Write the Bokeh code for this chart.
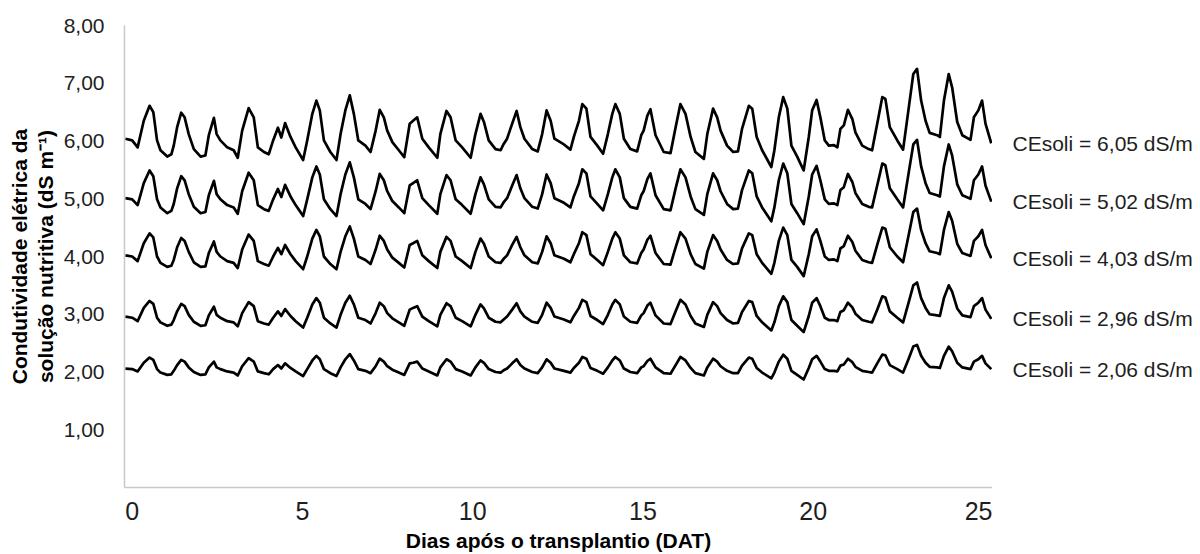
from bokeh.core.properties import value
from bokeh.embed import file_html
from bokeh.layouts import row
from bokeh.models import FixedTicker, Range1d, Title
from bokeh.plotting import figure
from bokeh.resources import INLINE

# Days after transplanting (DAT) at each reading
dias = [-0.20, 0.00, 0.16, 0.34, 0.51, 0.62, 0.73, 0.83, 1.03, 1.15,
        1.22, 1.32, 1.44, 1.54, 1.66, 1.81, 2.01, 2.15, 2.25, 2.40,
        2.48, 2.59, 2.79, 2.98, 3.10, 3.23, 3.42, 3.57, 3.69, 3.87,
        4.01, 4.14, 4.28, 4.38, 4.49, 4.65, 4.80, 5.02, 5.14, 5.29,
        5.41, 5.51, 5.63, 5.82, 6.00, 6.12, 6.26, 6.39, 6.51, 6.64,
        6.85, 7.00, 7.15, 7.27, 7.39, 7.49, 7.64, 7.83, 7.99, 8.15,
        8.25, 8.37, 8.52, 8.71, 8.96, 9.05, 9.23, 9.35, 9.50, 9.69,
        9.94, 10.08, 10.23, 10.33, 10.47, 10.67, 10.82, 10.91, 11.01, 11.16,
        11.29, 11.40, 11.52, 11.75, 11.91, 12.04, 12.17, 12.29, 12.40, 12.68,
        12.87, 12.97, 13.12, 13.22, 13.34, 13.46, 13.66, 13.83, 13.97, 14.10,
        14.19, 14.32, 14.44, 14.63, 14.83, 14.95, 15.02, 15.13, 15.22, 15.37,
        15.61, 15.81, 15.96, 16.10, 16.25, 16.40, 16.54, 16.79, 16.89, 17.06,
        17.18, 17.28, 17.47, 17.65, 17.79, 17.91, 18.11, 18.21, 18.34, 18.50,
        18.77, 18.86, 18.99, 19.12, 19.24, 19.36, 19.53, 19.72, 19.87, 19.97,
        20.10, 20.21, 20.34, 20.46, 20.61, 20.71, 20.80, 20.90, 21.02, 21.15,
        21.24, 21.44, 21.63, 21.73, 21.88, 22.03, 22.12, 22.25, 22.47, 22.64,
        22.81, 22.94, 23.05, 23.17, 23.30, 23.42, 23.64, 23.72, 23.84, 23.98,
        24.08, 24.23, 24.38, 24.62, 24.72, 24.85, 24.96, 25.06, 25.23]

# Electrical conductivity of the nutrient solution (dS/m), one list per treatment
ce_605 = [6.04, 6.01, 5.89, 6.35, 6.61, 6.50, 6.01, 5.84, 5.73, 5.77,
          5.92, 6.24, 6.49, 6.41, 6.12, 5.86, 5.73, 5.75, 6.10, 6.40,
          6.12, 6.01, 5.89, 5.84, 5.71, 6.18, 6.57, 6.41, 5.89, 5.81,
          5.77, 6.01, 6.23, 6.06, 6.31, 6.07, 5.89, 5.67, 6.01, 6.47,
          6.70, 6.53, 6.01, 5.81, 5.67, 6.12, 6.53, 6.79, 6.47, 6.01,
          5.92, 5.81, 6.18, 6.54, 6.41, 6.18, 5.98, 5.84, 5.72, 6.30,
          6.35, 6.41, 6.04, 5.89, 5.71, 6.12, 6.52, 6.41, 6.01, 5.89,
          5.71, 6.12, 6.47, 6.33, 6.01, 5.86, 5.84, 5.95, 6.04, 6.30,
          6.52, 6.24, 6.04, 5.86, 5.82, 6.12, 6.53, 6.35, 6.04, 5.94,
          5.85, 6.07, 6.35, 6.64, 6.56, 6.07, 5.92, 5.78, 6.12, 6.47,
          6.64, 6.47, 6.04, 5.86, 5.82, 6.10, 6.18, 6.44, 6.55, 6.10,
          5.81, 5.79, 6.24, 6.64, 6.47, 6.07, 5.81, 5.69, 6.12, 6.56,
          6.41, 6.18, 5.92, 5.81, 5.82, 6.21, 6.61, 6.56, 6.07, 5.84,
          5.55, 5.84, 6.41, 6.76, 6.56, 5.92, 5.73, 5.49, 6.07, 6.53,
          6.71, 6.41, 6.01, 5.92, 5.93, 5.89, 6.21, 6.27, 6.54, 6.38,
          6.15, 5.92, 5.86, 5.84, 6.30, 6.76, 6.73, 6.24, 6.01, 5.85,
          6.59, 7.16, 7.25, 6.70, 6.35, 6.14, 6.10, 6.07, 6.70, 7.16,
          6.93, 6.33, 6.10, 6.02, 6.41, 6.53, 6.70, 6.30, 5.96]

ce_502 = [5.01, 4.99, 4.89, 5.27, 5.49, 5.39, 4.99, 4.85, 4.75, 4.79,
          4.91, 5.18, 5.39, 5.32, 5.08, 4.86, 4.75, 4.77, 5.06, 5.31,
          5.08, 4.99, 4.89, 4.85, 4.74, 5.13, 5.45, 5.32, 4.89, 4.82,
          4.79, 4.99, 5.17, 5.03, 5.24, 5.04, 4.89, 4.70, 4.99, 5.37,
          5.56, 5.42, 4.99, 4.82, 4.70, 5.08, 5.42, 5.63, 5.37, 4.99,
          4.91, 4.82, 5.13, 5.43, 5.32, 5.13, 4.96, 4.85, 4.75, 5.23,
          5.27, 5.32, 5.01, 4.89, 4.74, 5.08, 5.41, 5.32, 4.99, 4.89,
          4.74, 5.08, 5.37, 5.25, 4.99, 4.86, 4.85, 4.94, 5.01, 5.23,
          5.41, 5.18, 5.01, 4.86, 4.83, 5.08, 5.42, 5.27, 5.01, 4.93,
          4.85, 5.04, 5.27, 5.51, 5.44, 5.04, 4.91, 4.80, 5.08, 5.37,
          5.51, 5.37, 5.01, 4.86, 4.83, 5.06, 5.13, 5.34, 5.44, 5.06,
          4.82, 4.80, 5.18, 5.51, 5.37, 5.04, 4.82, 4.72, 5.08, 5.44,
          5.32, 5.13, 4.91, 4.82, 4.83, 5.15, 5.49, 5.44, 5.04, 4.85,
          4.61, 4.85, 5.32, 5.61, 5.44, 4.91, 4.75, 4.56, 5.04, 5.42,
          5.57, 5.32, 4.99, 4.91, 4.92, 4.89, 5.15, 5.20, 5.43, 5.29,
          5.10, 4.91, 4.86, 4.85, 5.23, 5.61, 5.58, 5.18, 4.99, 4.85,
          5.47, 5.94, 6.02, 5.56, 5.27, 5.10, 5.06, 5.04, 5.56, 5.94,
          5.75, 5.25, 5.06, 5.00, 5.32, 5.42, 5.56, 5.23, 4.95]

ce_403 = [4.02, 4.00, 3.92, 4.23, 4.40, 4.33, 4.00, 3.89, 3.82, 3.84,
          3.94, 4.16, 4.32, 4.27, 4.08, 3.90, 3.82, 3.83, 4.06, 4.26,
          4.08, 4.00, 3.92, 3.89, 3.80, 4.12, 4.38, 4.27, 3.92, 3.87,
          3.84, 4.00, 4.15, 4.04, 4.20, 4.04, 3.92, 3.78, 4.00, 4.31,
          4.46, 4.35, 4.00, 3.87, 3.78, 4.08, 4.35, 4.52, 4.31, 4.00,
          3.94, 3.87, 4.12, 4.36, 4.27, 4.12, 3.98, 3.89, 3.81, 4.20,
          4.23, 4.27, 4.02, 3.92, 3.80, 4.08, 4.34, 4.27, 4.00, 3.92,
          3.80, 4.08, 4.31, 4.22, 4.00, 3.90, 3.89, 3.96, 4.02, 4.20,
          4.34, 4.16, 4.02, 3.90, 3.88, 4.08, 4.35, 4.23, 4.02, 3.96,
          3.90, 4.04, 4.23, 4.42, 4.37, 4.04, 3.94, 3.85, 4.08, 4.31,
          4.42, 4.31, 4.02, 3.90, 3.88, 4.06, 4.12, 4.29, 4.36, 4.06,
          3.87, 3.86, 4.16, 4.42, 4.31, 4.04, 3.87, 3.79, 4.08, 4.37,
          4.27, 4.12, 3.94, 3.87, 3.88, 4.14, 4.40, 4.37, 4.04, 3.89,
          3.70, 3.89, 4.27, 4.50, 4.37, 3.94, 3.82, 3.66, 4.04, 4.35,
          4.47, 4.27, 4.00, 3.94, 3.95, 3.92, 4.14, 4.18, 4.36, 4.25,
          4.10, 3.94, 3.90, 3.89, 4.20, 4.50, 4.48, 4.16, 4.00, 3.90,
          4.39, 4.77, 4.83, 4.46, 4.23, 4.09, 4.06, 4.04, 4.46, 4.77,
          4.62, 4.22, 4.06, 4.01, 4.27, 4.35, 4.46, 4.20, 3.97]

ce_296 = [2.96, 2.94, 2.88, 3.11, 3.23, 3.18, 2.94, 2.86, 2.80, 2.82,
          2.90, 3.05, 3.18, 3.14, 2.99, 2.87, 2.80, 2.81, 2.98, 3.13,
          2.99, 2.94, 2.88, 2.86, 2.79, 3.02, 3.21, 3.14, 2.88, 2.84,
          2.82, 2.94, 3.05, 2.97, 3.09, 2.97, 2.88, 2.77, 2.94, 3.17,
          3.28, 3.20, 2.94, 2.84, 2.77, 2.99, 3.20, 3.32, 3.17, 2.94,
          2.90, 2.84, 3.02, 3.20, 3.14, 3.02, 2.93, 2.86, 2.80, 3.08,
          3.11, 3.14, 2.96, 2.88, 2.79, 2.99, 3.19, 3.14, 2.94, 2.88,
          2.79, 2.99, 3.17, 3.10, 2.94, 2.87, 2.86, 2.91, 2.96, 3.08,
          3.19, 3.05, 2.96, 2.87, 2.85, 2.99, 3.20, 3.11, 2.96, 2.91,
          2.86, 2.97, 3.11, 3.25, 3.21, 2.97, 2.90, 2.83, 2.99, 3.17,
          3.25, 3.17, 2.96, 2.87, 2.85, 2.98, 3.02, 3.15, 3.20, 2.98,
          2.84, 2.83, 3.05, 3.25, 3.17, 2.97, 2.84, 2.78, 2.99, 3.21,
          3.14, 3.02, 2.90, 2.84, 2.85, 3.04, 3.23, 3.21, 2.97, 2.86,
          2.72, 2.86, 3.14, 3.31, 3.21, 2.90, 2.80, 2.69, 2.97, 3.20,
          3.28, 3.14, 2.94, 2.90, 2.90, 2.88, 3.04, 3.07, 3.20, 3.12,
          3.01, 2.90, 2.87, 2.86, 3.08, 3.31, 3.29, 3.05, 2.94, 2.86,
          3.22, 3.50, 3.55, 3.28, 3.11, 3.00, 2.98, 2.97, 3.28, 3.50,
          3.39, 3.10, 2.98, 2.95, 3.14, 3.20, 3.28, 3.08, 2.92]

ce_206 = [2.06, 2.05, 2.01, 2.16, 2.25, 2.21, 2.05, 1.99, 1.95, 1.96,
          2.02, 2.12, 2.21, 2.18, 2.08, 2.00, 1.95, 1.96, 2.08, 2.18,
          2.08, 2.05, 2.01, 1.99, 1.94, 2.10, 2.24, 2.18, 2.01, 1.98,
          1.96, 2.05, 2.12, 2.06, 2.15, 2.07, 2.01, 1.93, 2.05, 2.20,
          2.28, 2.22, 2.05, 1.98, 1.93, 2.08, 2.22, 2.31, 2.20, 2.05,
          2.02, 1.98, 2.10, 2.23, 2.18, 2.10, 2.04, 1.99, 1.95, 2.15,
          2.16, 2.18, 2.06, 2.01, 1.94, 2.08, 2.22, 2.18, 2.05, 2.01,
          1.94, 2.08, 2.20, 2.16, 2.05, 2.00, 1.99, 2.03, 2.06, 2.15,
          2.22, 2.12, 2.06, 2.00, 1.98, 2.08, 2.22, 2.16, 2.06, 2.02,
          1.99, 2.07, 2.16, 2.26, 2.23, 2.07, 2.02, 1.97, 2.08, 2.20,
          2.26, 2.20, 2.06, 2.00, 1.98, 2.08, 2.10, 2.19, 2.23, 2.08,
          1.98, 1.97, 2.12, 2.26, 2.20, 2.07, 1.98, 1.94, 2.08, 2.23,
          2.18, 2.10, 2.02, 1.98, 1.98, 2.11, 2.25, 2.23, 2.07, 1.99,
          1.89, 1.99, 2.18, 2.30, 2.23, 2.02, 1.95, 1.87, 2.07, 2.22,
          2.28, 2.18, 2.05, 2.02, 2.02, 2.01, 2.11, 2.13, 2.23, 2.17,
          2.09, 2.02, 2.00, 1.99, 2.15, 2.30, 2.29, 2.12, 2.05, 1.99,
          2.24, 2.44, 2.47, 2.28, 2.16, 2.09, 2.08, 2.07, 2.28, 2.44,
          2.36, 2.16, 2.08, 2.05, 2.18, 2.22, 2.28, 2.15, 2.05]

nomes = ["CEsoli = 6,05 dS/m", "CEsoli = 5,02 dS/m", "CEsoli = 4,03 dS/m",
         "CEsoli = 2,96 dS/m", "CEsoli = 2,06 dS/m"]
series = [ce_605, ce_502, ce_403, ce_296, ce_206]

y_ticks = [1, 2, 3, 4, 5, 6, 7, 8]
x_ticks = [0, 5, 10, 15, 20, 25]

FONT = "Liberation Sans"
AXIS_GREY = "#c8c8c8"
TEXT = "#1e1e1e"
TOP, BOTTOM, FRAME_H = 25, 67, 462

y_range = Range1d(0, 8)

p = figure(
    frame_width=868, frame_height=FRAME_H,
    min_border_left=124, min_border_right=0,
    min_border_top=TOP, min_border_bottom=BOTTOM,
    x_range=Range1d(-0.226, 25.266), y_range=y_range,
    output_backend="svg", toolbar_location=None,
    background_fill_color="white", border_fill_color="white",
)
p.outline_line_color = None
p.grid.visible = False

for vals in series:
    p.line(dias, vals, line_color="black", line_width=2.7, line_join="round")

# y axis
p.yaxis.ticker = FixedTicker(ticks=y_ticks)
p.yaxis.major_label_overrides = {t: f"{t:.2f}".replace(".", ",") for t in y_ticks}
p.yaxis.major_label_text_font = FONT
p.yaxis.major_label_text_font_size = "21px"
p.yaxis.major_label_text_color = TEXT
p.yaxis.major_label_standoff = 20
p.yaxis.major_tick_out = 0
p.yaxis.major_tick_in = 0
p.yaxis.axis_line_color = AXIS_GREY
p.yaxis.axis_line_width = 1.5
p.yaxis.major_tick_line_color = None
p.yaxis.minor_tick_line_color = None

# x axis
p.xaxis.ticker = FixedTicker(ticks=x_ticks)
p.xaxis.major_label_text_font = FONT
p.xaxis.major_label_text_font_size = "25px"
p.xaxis.major_label_text_color = TEXT
p.xaxis.major_label_standoff = 8
p.xaxis.axis_line_color = AXIS_GREY
p.xaxis.axis_line_width = 1.5
p.xaxis.major_tick_line_color = None
p.xaxis.minor_tick_line_color = None
p.xaxis.axis_label = "Dias após o transplantio (DAT)"
p.xaxis.axis_label_text_font = FONT
p.xaxis.axis_label_text_font_size = "21px"
p.xaxis.axis_label_text_font_style = "bold"
p.xaxis.axis_label_text_color = "black"
p.xaxis.axis_label_standoff = 6

# two-line y axis title, stacked outward from the axis
for text, standoff in [("solução nutritiva (dS m\u207b\u00b9)", 7),
                       ("Condutividade elétrica da", -5)]:
    p.add_layout(Title(
        text=text, align="center", standoff=standoff,
        text_font=FONT, text_font_size="21px", text_font_style="bold",
        text_color="black",
    ), "left")

# series names written to the right of each line's last reading
lab = figure(
    frame_width=208, frame_height=FRAME_H,
    min_border_left=0, min_border_right=0,
    min_border_top=TOP, min_border_bottom=BOTTOM,
    x_range=Range1d(0, 208), y_range=y_range,
    x_axis_location=None, y_axis_location=None,
    output_backend="svg", toolbar_location=None,
    background_fill_color="white", border_fill_color="white",
)
lab.outline_line_color = None
lab.grid.visible = False
lab.text(
    x=[20] * len(series), y=[vals[-1] for vals in series], text=nomes,
    text_font=value(FONT), text_font_size="21px", text_color=TEXT,
    text_baseline="middle", text_align="left",
)

layout = row(p, lab, spacing=0)
open("out.html", "w").write(file_html(layout, INLINE))
